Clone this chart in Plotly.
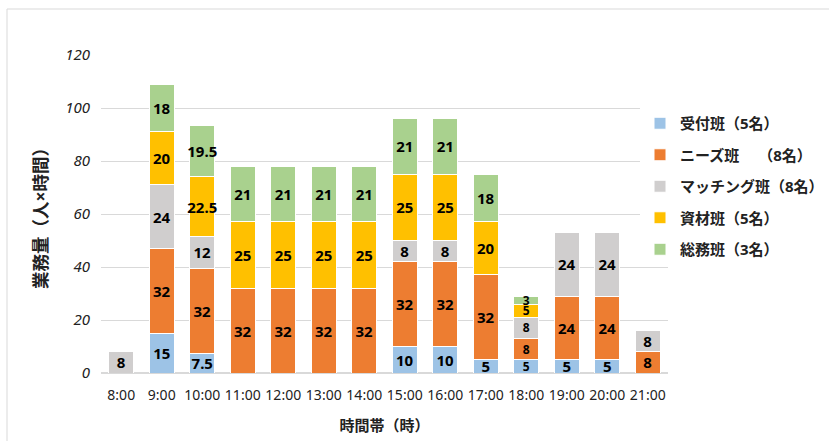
import plotly.graph_objects as go

categories = ["8:00", "9:00", "10:00", "11:00", "12:00", "13:00", "14:00",
              "15:00", "16:00", "17:00", "18:00", "19:00", "20:00", "21:00"]

uketsuke = [0, 15, 7.5, 0, 0, 0, 0, 10, 10, 5, 5, 5, 5, 0]
needs    = [0, 32, 32, 32, 32, 32, 32, 32, 32, 32, 8, 24, 24, 8]
matching = [8, 24, 12, 0, 0, 0, 0, 8, 8, 0, 8, 24, 24, 8]
shizai   = [0, 20, 22.5, 25, 25, 25, 25, 25, 25, 20, 5, 0, 0, 0]
somu     = [0, 18, 19.5, 21, 21, 21, 21, 21, 21, 18, 3, 0, 0, 0]

series = [
    ("受付班（5名）", uketsuke, "#9DC3E6"),
    ("ニーズ班　 （8名）", needs, "#ED7D31"),
    ("マッチング班（8名）", matching, "#D0CECE"),
    ("資材班（5名）", shizai, "#FFC000"),
    ("総務班（3名）", somu, "#A9D18E"),
]

FONT = "Noto Sans, Noto Sans CJK JP, sans-serif"

fig = go.Figure()
for i, (name, vals, color) in enumerate(series):
    y = [v if v != 0 else None for v in vals]
    txt = [("%g" % v) if v != 0 else "" for v in vals]
    sizes = [12 if c == "18:00" else 15 for c in categories]
    fig.add_trace(go.Bar(
        x=categories, y=y, name=name, legendgroup=str(i),
        marker=dict(color=color, line=dict(color="white", width=1)),
        text=txt, textposition="inside", insidetextanchor="middle", textangle=0,
        textfont=dict(size=sizes, color="black", family=FONT, weight="bold"),
        constraintext="none",
    ))

W, H = 829, 441
L, R, T, B = 101, 161, 55, 68
pw, ph = W - L - R, H - T - B

fig.update_layout(
    width=W, height=H,
    barmode="stack", bargap=0.38,
    margin=dict(l=L, r=R, t=T, b=B, autoexpand=False),
    paper_bgcolor="white", plot_bgcolor="white",
    font=dict(family=FONT, color="#333333"),
    legend=dict(
        x=(640 - L) / pw, xanchor="left", y=(373 - 107) / ph, yanchor="top",
        traceorder="grouped", tracegroupgap=9,
        font=dict(size=15, color="#222222", family=FONT, weight="bold"),
        itemclick=False,
    ),
    xaxis=dict(
        showline=False, ticks="", tickfont=dict(size=14, color="#222222"),
        ticklabelstandoff=12,
        title=dict(text="時間帯（時）", font=dict(size=15, color="#222222", weight="bold"), standoff=17),
        automargin=False,
    ),
    yaxis=dict(
        range=[0, 120], dtick=20, showgrid=True, gridcolor="#D9D9D9",
        zeroline=True, zerolinecolor="#D9D9D9", showline=False,
        tickfont=dict(size=15, color="#222222", style="italic"),
        ticklabelstandoff=10,
        title=dict(text="業務量（人×時間）", font=dict(size=17.5, color="#222222", weight="bold"), standoff=13),
        automargin=False,
    ),
    shapes=[dict(
        type="rect", xref="paper", yref="paper",
        x0=(7 - L) / pw, x1=(W + 20 - L) / pw,
        y0=-(H + 20 - (T + ph)) / ph, y1=(T + ph - 9) / ph,
        line=dict(color="#D9D9D9", width=1), fillcolor="rgba(0,0,0,0)", layer="below",
    )],
)

fig.write_html("out.html")
